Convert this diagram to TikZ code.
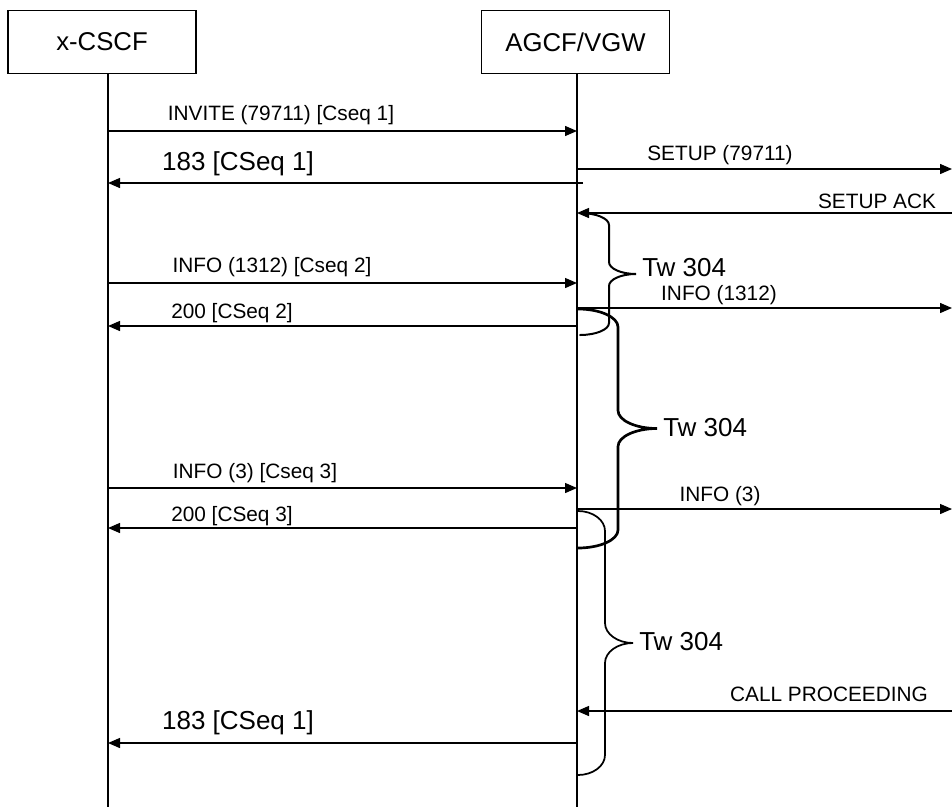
\documentclass[tikz,border=0pt]{standalone}
\usepackage{fontspec}
\setmainfont{Liberation Sans}
\usetikzlibrary{arrows.meta, positioning}

\begin{document}
\begin{tikzpicture}[
		x=0.75pt, y=-0.75pt,
		entity/.style={
			draw,
			line width=0.8pt,
			minimum width=141pt,
			minimum height=47pt,
			inner sep=0pt,
			font=\fontsize{19.3}{22}\selectfont
		},
		small/.style={inner sep=0pt, font=\fontsize{15.6}{17}\selectfont},
		big/.style={inner sep=0pt, font=\fontsize{19.5}{22}\selectfont},
		lifeline/.style={line width=0.8pt},
		msg/.style={-{Triangle[length=9pt, width=7.5pt]}, line width=1pt},
		wbrace/.style={line cap=round}
		]
		
		\useasboundingbox (0,0) rectangle (952,807);
		
		% entities and lifelines
		\node[entity] (cscf) at (102,42) {x-CSCF};
		\node[entity] (agcf) at (575.5,42) {AGCF/VGW};
		\coordinate (cscftop) at (108,73);
		\coordinate (cscfbot) at (108,807);
		\coordinate (agcftop) at (577,73);
		\coordinate (agcfbot) at (577,807);
		\coordinate (edge) at (952,0);
		\draw[lifeline] (cscftop) -- (cscfbot);
		\draw[lifeline] (agcftop) -- (agcfbot);
		
		% message rows
		\coordinate (invite) at (0,131);
		\coordinate (setup) at (0,169);
		\coordinate (ringing) at (0,183);
		\coordinate (setupack) at (0,213);
		\coordinate (info2) at (0,283);
		\coordinate (infoa) at (0,308);
		\coordinate (ok2) at (0,326);
		\coordinate (info3) at (0,488);
		\coordinate (infob) at (0,509);
		\coordinate (ok3) at (0,528);
		\coordinate (callproc) at (0,711);
		\coordinate (ringing2) at (0,743);
		
		% messages
		\draw[msg] (cscftop |- invite) -- (agcftop |- invite);
		\node[small] (invitelbl) at (281,115) {INVITE (79711) [Cseq 1]};
		\draw[msg] (agcftop |- setup) -- (edge |- setup);
		\node[small] (setuplbl) at (720,155) {SETUP (79711)};
		\draw[msg] ([xshift=4.5pt]agcftop |- ringing) -- (cscftop |- ringing);
		\node[big] (ringinglbl) at (238,164) {183 [CSeq 1]};
		\draw[msg] (edge |- setupack) -- (agcftop |- setupack);
		\node[small] (setupacklbl) at (877,201) {SETUP ACK};
		
		\draw[msg] (cscftop |- info2) -- (agcftop |- info2);
		\node[small] (info2lbl) at (272,267) {INFO (1312) [Cseq 2]};
		\draw[msg] (agcftop |- infoa) -- (edge |- infoa);
		\node[small] (infoalbl) at (719,295) {INFO (1312)};
		\draw[msg] (agcftop |- ok2) -- (cscftop |- ok2);
		\node[small] (ok2lbl) at (232,313) {200 [CSeq 2]};
		
		\draw[msg] (cscftop |- info3) -- (agcftop |- info3);
		\node[small] (info3lbl) at (255,473) {INFO (3) [Cseq 3]};
		\draw[msg] (agcftop |- infob) -- (edge |- infob);
		\node[small] (infoblbl) at (720,496) {INFO (3)};
		\draw[msg] (agcftop |- ok3) -- (cscftop |- ok3);
		\node[small] (ok3lbl) at (232,516) {200 [CSeq 3]};
		
		\draw[msg] (edge |- callproc) -- (agcftop |- callproc);
		\node[small] (callproclbl) at (829,694) {CALL PROCEEDING};
		\draw[msg] (agcftop |- ringing2) -- (cscftop |- ringing2);
		\node[big] (ringing2lbl) at (238,723) {183 [CSeq 1]};
		
		% Tw 304 timers
		\foreach \xa/\ya/\yb/\xb/\xc/\r/\w/\dy/\n in {580/213/335/609/636/12/1.5/-6/1, 578/309/548/618/657/18/2/-1/2, 578/511/775/605/633/20/1.3/-1/3} {
			\pgfmathsetmacro\ym{(\ya+\yb)/2}
			\draw[wbrace, line width=\w pt] (\xa,\ya) .. controls ({\xa+0.55*(\xb-\xa)},\ya) and (\xb,{\ya+0.45*\r}) .. (\xb,\ya+\r) -- (\xb,\ym-\r) .. controls (\xb,{\ym-0.45*\r}) and ({\xb+0.45*(\xc-\xb)},\ym) .. (\xc,\ym) .. controls ({\xb+0.45*(\xc-\xb)},\ym) and (\xb,{\ym+0.45*\r}) .. (\xb,\ym+\r) -- (\xb,\yb-\r) .. controls (\xb,{\yb-0.45*\r}) and ({\xa+0.55*(\xb-\xa)},\yb) .. (\xa,\yb);
			\node[big, anchor=west] (tw\n) at (\xc+6,\ym+\dy) {Tw 304};
		}
		
	\end{tikzpicture}
\end{document}
